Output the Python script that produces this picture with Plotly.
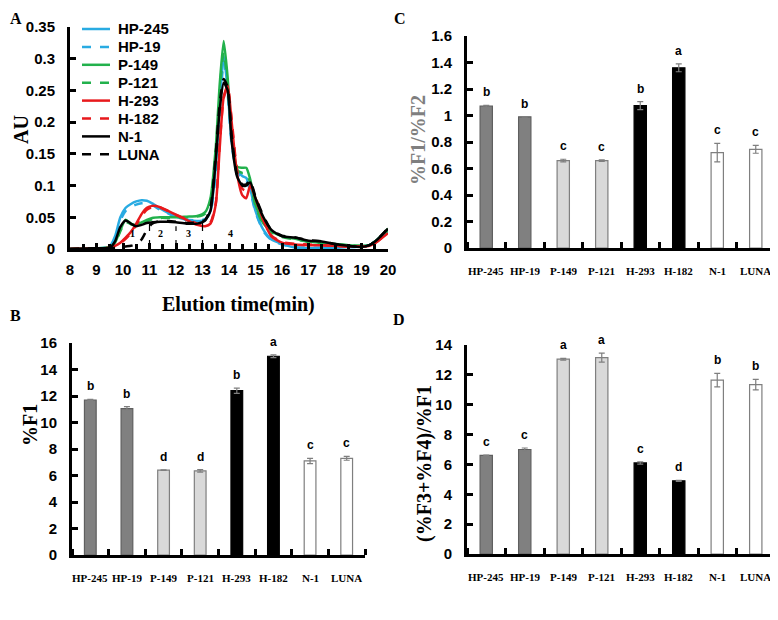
import plotly.graph_objects as go

# ---------------- Panel A data (chromatogram) ----------------
time_min = [8, 9, 9.5, 9.7, 9.9, 10.1, 10.3, 10.5, 10.7, 10.9, 11.1, 11.4, 11.7, 12.0, 12.4, 12.8,
            13.1, 13.3, 13.5, 13.65, 13.8, 13.95, 14.1, 14.3, 14.5, 14.65, 14.8, 15.0, 15.3, 15.6,
            16.0, 16.5, 17.0, 17.5, 18.0, 18.5, 19.0, 19.3, 19.6, 20.0]

au_hp245 = [0, 0.001, 0.004, 0.02, 0.05, 0.065, 0.071, 0.075, 0.077, 0.076, 0.072, 0.064, 0.057, 0.051, 0.046, 0.044,
            0.046, 0.06, 0.13, 0.23, 0.305, 0.25, 0.17, 0.125, 0.115, 0.112, 0.095, 0.06, 0.03, 0.015,
            0.008, 0.002, 0.001, 0.002, 0.002, 0.003, 0.004, 0.006, 0.015, 0.03]
au_hp19 = [0, 0.001, 0.003, 0.015, 0.045, 0.06, 0.066, 0.07, 0.072, 0.072, 0.069, 0.062, 0.056, 0.05, 0.046, 0.045,
           0.047, 0.058, 0.12, 0.22, 0.295, 0.245, 0.165, 0.12, 0.112, 0.108, 0.092, 0.058, 0.028, 0.014,
           0.007, 0.003, 0.002, 0.002, 0.003, 0.003, 0.004, 0.006, 0.014, 0.028]
au_p149 = [0, 0.001, 0.003, 0.01, 0.03, 0.046, 0.04, 0.038, 0.042, 0.046, 0.049, 0.05, 0.05, 0.05, 0.051, 0.052,
           0.058, 0.08, 0.16, 0.26, 0.328, 0.27, 0.18, 0.13, 0.128, 0.128, 0.11, 0.07, 0.04, 0.028,
           0.02, 0.016, 0.012, 0.01, 0.008, 0.006, 0.005, 0.006, 0.015, 0.032]
au_p121 = [0, 0.001, 0.003, 0.009, 0.028, 0.043, 0.039, 0.037, 0.04, 0.044, 0.047, 0.049, 0.049, 0.049, 0.05, 0.051,
           0.056, 0.075, 0.15, 0.25, 0.31, 0.26, 0.175, 0.125, 0.12, 0.12, 0.105, 0.068, 0.038, 0.026,
           0.019, 0.015, 0.011, 0.009, 0.007, 0.006, 0.005, 0.006, 0.014, 0.03]
au_h293 = [0, 0.001, 0.002, 0.005, 0.01, 0.018, 0.027, 0.04, 0.055, 0.065, 0.068, 0.066, 0.06, 0.054, 0.046, 0.038,
           0.036, 0.04, 0.07, 0.16, 0.24, 0.258, 0.2, 0.12, 0.085, 0.08, 0.1, 0.08, 0.045, 0.02,
           0.01, 0.007, 0.006, 0.006, 0.005, 0.004, 0.004, 0.005, 0.012, 0.025]
au_h182 = [0, 0.001, 0.002, 0.004, 0.009, 0.016, 0.025, 0.038, 0.052, 0.062, 0.066, 0.065, 0.06, 0.054, 0.047, 0.04,
           0.038, 0.042, 0.072, 0.165, 0.238, 0.255, 0.205, 0.125, 0.095, 0.092, 0.102, 0.082, 0.046, 0.021,
           0.011, 0.008, 0.007, 0.006, 0.005, 0.004, 0.004, 0.005, 0.012, 0.026]
au_n1 = [0, 0.001, 0.002, 0.012, 0.035, 0.045, 0.04, 0.036, 0.038, 0.041, 0.042, 0.043, 0.043, 0.042, 0.04, 0.04,
         0.045, 0.06, 0.14, 0.22, 0.262, 0.25, 0.17, 0.115, 0.1, 0.1, 0.105, 0.08, 0.05, 0.03,
         0.02, 0.018, 0.013, 0.012, 0.008, 0.005, 0.003, 0.006, 0.015, 0.032]
au_luna = [0, 0.001, 0.001, 0.002, 0.003, 0.004, 0.005, 0.008, 0.015, 0.03, 0.04, 0.044, 0.044, 0.043, 0.041, 0.042,
           0.046, 0.065, 0.15, 0.23, 0.268, 0.255, 0.18, 0.118, 0.102, 0.102, 0.108, 0.082, 0.052, 0.03,
           0.021, 0.018, 0.014, 0.012, 0.008, 0.005, 0.003, 0.006, 0.015, 0.033]

series_names = ["HP-245", "HP-19", "P-149", "P-121", "H-293", "H-182", "N-1", "LUNA"]
series_values = [au_hp245, au_hp19, au_p149, au_p121, au_h293, au_h182, au_n1, au_luna]
series_colors = ["#29abe2", "#29abe2", "#22b14c", "#22b14c", "#e8191c", "#e8191c", "#000000", "#000000"]
series_dash = ["solid", "dash", "solid", "dash", "solid", "dash", "solid", "dash"]

fraction_bounds = [11, 12, 13]
fraction_bound_tops = [0.04, 0.036, 0.042]
fraction_labels = ["1", "2", "3", "4"]
fraction_label_x = [10.36, 11.42, 12.47, 14.05]
fraction_label_y = [0.024, 0.024, 0.024, 0.024]

# ---------------- Bar panel data ----------------
cultivars = ["HP-245", "HP-19", "P-149", "P-121", "H-293", "H-182", "N-1", "LUNA"]

pct_f1 = [11.7, 11.05, 6.4, 6.35, 12.4, 15.0, 7.1, 7.3]
pct_f1_err = [0.05, 0.15, 0.02, 0.1, 0.2, 0.1, 0.2, 0.15]
pct_f1_letters = ["b", "b", "d", "d", "b", "a", "c", "c"]

f1_f2 = [1.07, 0.99, 0.66, 0.66, 1.075, 1.36, 0.72, 0.745]
f1_f2_err = [0.006, 0.002, 0.01, 0.006, 0.03, 0.03, 0.07, 0.03]
f1_f2_letters = ["b", "b", "c", "c", "b", "a", "c", "c"]

f34_f1 = [6.6, 7.0, 13.05, 13.15, 6.1, 4.9, 11.65, 11.35]
f34_f1_err = [0.02, 0.1, 0.06, 0.3, 0.08, 0.03, 0.45, 0.35]
f34_f1_letters = ["c", "c", "a", "a", "c", "d", "b", "b"]

bar_fill = ["#808080", "#808080", "#d9d9d9", "#d9d9d9", "#000000", "#000000", "#ffffff", "#ffffff"]
bar_line = ["#5f5f5f", "#5f5f5f", "#7f7f7f", "#7f7f7f", "#000000", "#000000", "#7f7f7f", "#7f7f7f"]

SANS = "Liberation Sans"
SERIF = "Liberation Serif"

# The page body has an 8px margin: the figure is 8px smaller and all positions
# below are given in window pixels.
OFF = 8
W, H = 778 - OFF, 620 - OFF
def px(x):
    return (x - OFF) / W
def py(y):
    return 1 - (y - OFF) / H

fig = go.Figure()

# Panel A traces
for name, vals, col, dash in zip(series_names, series_values, series_colors, series_dash):
    fig.add_trace(go.Scatter(
        x=time_min, y=vals, name=name, mode="lines",
        line=dict(color=col, width=2.5, dash=dash, shape="spline", smoothing=0.6),
        xaxis="x", yaxis="y", showlegend=False))

cat_pos = list(range(len(cultivars)))

# Bar panels
def add_bars(vals, errs, letters, xa, ya, label_top):
    fig.add_trace(go.Bar(
        x=cat_pos, y=vals, width=0.32,
        marker=dict(color=bar_fill, line=dict(color=bar_line, width=1.2)),
        error_y=dict(type="data", array=errs, color="#7f7f7f", thickness=1.2, width=3),
        xaxis=xa, yaxis=ya, showlegend=False))
    for c, v, e, l in zip(cat_pos, vals, errs, letters):
        fig.add_annotation(x=c, y=v + e, text=l, showarrow=False, xref=xa, yref=ya,
                           xanchor="center", yanchor="bottom", yshift=4,
                           font=dict(family=SANS, size=12, color="#000000", weight="bold"))
    # category labels
    for c, name in zip(cat_pos, cultivars):
        fig.add_annotation(x=c, y=py(label_top), xref=xa, yref="paper", text=name,
                           showarrow=False, xanchor="center", yanchor="top",
                           font=dict(family=SERIF, size=11, color="#000000", weight="bold"))

add_bars(pct_f1, pct_f1_err, pct_f1_letters, "x2", "y2", 570)
add_bars(f1_f2, f1_f2_err, f1_f2_letters, "x3", "y3", 263)
add_bars(f34_f1, f34_f1_err, f34_f1_letters, "x4", "y4", 569)

# Fraction boundaries in panel A
for xb, top in zip(fraction_bounds, fraction_bound_tops):
    fig.add_shape(type="line", xref="x", yref="y", x0=xb, x1=xb, y0=0, y1=top,
                  line=dict(color="#000000", width=1.2, dash="dash"))
for lab, lx, ly in zip(fraction_labels, fraction_label_x, fraction_label_y):
    fig.add_annotation(x=lx, y=ly, text=lab, xref="x", yref="y", showarrow=False,
                       xanchor="center", yanchor="middle",
                       font=dict(family=SERIF, size=10, color="#000000", weight="bold"))

# Legend for panel A (drawn in paper space)
leg_x0, leg_x1, leg_tx, leg_y0, leg_dy = 82, 110, 116, 29, 17.9
for i, (name, col, dash) in enumerate(zip(series_names, series_colors, series_dash)):
    yy = py(leg_y0 + i * leg_dy)
    fig.add_shape(type="line", xref="paper", yref="paper", x0=px(leg_x0), x1=px(leg_x1), y0=yy, y1=yy,
                  line=dict(color=col, width=2.5, dash=dash))
    fig.add_annotation(x=px(leg_tx), y=yy, xref="paper", yref="paper", text=name, showarrow=False,
                       xanchor="left", yanchor="middle",
                       font=dict(family=SANS, size=15, color="#000000", weight="bold"))

tickfont_sans = dict(family=SANS, size=15, color="#000000", weight="bold")
axis_common = dict(showline=True, linecolor="#000000", linewidth=3, showgrid=False, zeroline=False,
                   tickcolor="#000000", tickwidth=2.5, automargin=False)

def cat_axis(dom, anchor):
    return dict(domain=dom, anchor=anchor, range=[-0.5, len(cultivars) - 0.5],
                tickmode="array", tickvals=cat_pos, ticks="", showticklabels=False,
                minor=dict(tickmode="linear", tick0=0.5, dtick=1, ticks="inside", ticklen=6,
                           tickwidth=2.5, tickcolor="#000000"),
                **axis_common)

def val_axis(dom, anchor, top, step):
    return dict(domain=dom, range=[0, top], dtick=step, tickfont=tickfont_sans, anchor=anchor,
                ticks="inside", ticklen=6, ticklabelstandoff=9, **axis_common)

layout = dict(
    width=W, height=H, margin=dict(l=0, r=0, t=0, b=0, pad=0, autoexpand=False),
    paper_bgcolor="#ffffff", plot_bgcolor="#ffffff",
    showlegend=False,
    xaxis=dict(domain=[px(70), px(388)], range=[8, 20], dtick=1, tickfont=tickfont_sans,
               anchor="y", ticklabelstandoff=5, ticks="inside", ticklen=6,
               minor=dict(dtick=0.5, ticks="inside", ticklen=5, tickwidth=2.5, tickcolor="#000000"),
               **axis_common),
    yaxis=val_axis([py(249), py(27)], "x", 0.35, 0.05),
    xaxis2=cat_axis([px(72), px(365)], "y2"),
    yaxis2=val_axis([py(555), py(343)], "x2", 16, 2),
    xaxis3=cat_axis([px(467), px(775)], "y3"),
    yaxis3=val_axis([py(248), py(36)], "x3", 1.6, 0.2),
    xaxis4=cat_axis([px(467), px(775)], "y4"),
    yaxis4=val_axis([py(554), py(345)], "x4", 14, 2),
)
fig.update_layout(**layout)

title_font = dict(family=SERIF, size=20, color="#000000", weight="bold")
centered = dict(xref="paper", yref="paper", showarrow=False, xanchor="center", yanchor="middle")
# Axis titles as annotations
fig.add_annotation(x=0, y=py(130), xref="paper", yref="paper", showarrow=False,
                   xanchor="left", yanchor="middle", text="AU", textangle=-90,
                   font=dict(family=SERIF, size=20, color="#000000", weight="bold"))
fig.add_annotation(x=px(238), y=py(304), text="Elution time(min)", font=title_font, **centered)
fig.add_annotation(x=px(30), y=py(425), text="%F1", textangle=-90, font=title_font, **centered)
fig.add_annotation(x=px(418), y=py(140), text="%F1/%F2", textangle=-90,
                   font=dict(family=SERIF, size=20, color="#7f7f7f", weight="bold"), **centered)
fig.add_annotation(x=px(424), y=py(463), text="(%F3+%F4)/%F1", textangle=-90,
                   font=title_font, **centered)

# Panel letters
fig.add_annotation(x=0, y=1, xref="paper", yref="paper", text="A", showarrow=False,
                   xanchor="left", yanchor="top",
                   font=dict(family=SERIF, size=16, color="#000000", weight="bold"))
fig.add_annotation(x=px(392), y=1, xref="paper", yref="paper", text="C", showarrow=False,
                   xanchor="left", yanchor="top",
                   font=dict(family=SERIF, size=16, color="#000000", weight="bold"))
fig.add_annotation(x=0, y=py(315), xref="paper", yref="paper", text="B", showarrow=False,
                   xanchor="left", yanchor="middle",
                   font=dict(family=SERIF, size=16, color="#000000", weight="bold"))
fig.add_annotation(x=px(391), y=py(319), xref="paper", yref="paper", text="D", showarrow=False,
                   xanchor="left", yanchor="middle",
                   font=dict(family=SERIF, size=16, color="#000000", weight="bold"))

fig.write_html("out.html")
